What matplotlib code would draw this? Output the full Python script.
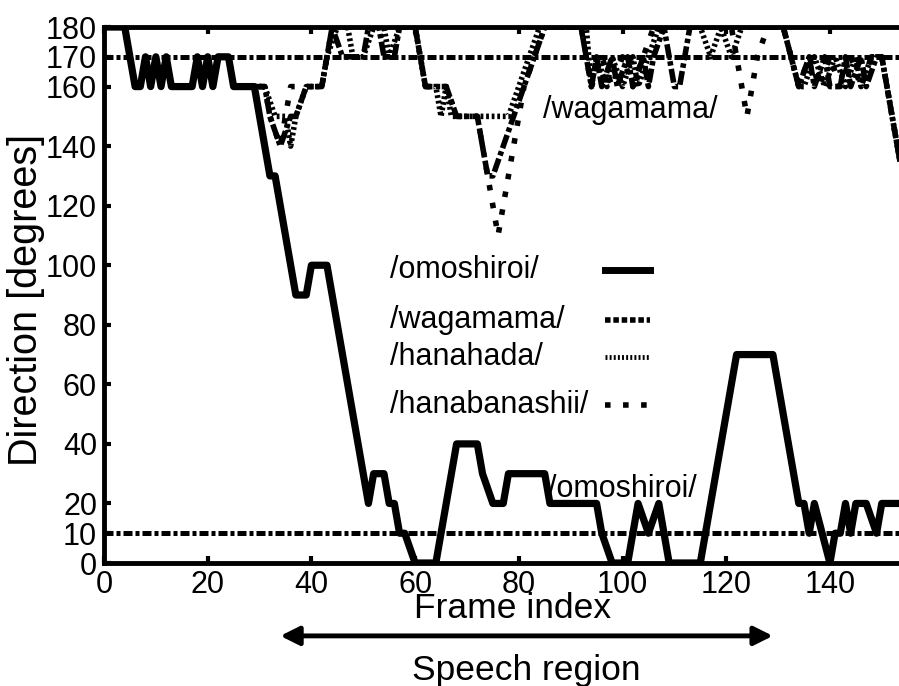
import matplotlib
matplotlib.use('Agg')
from matplotlib import pyplot as plt

plt.rcParams['font.family'] = ['Liberation Sans', 'DejaVu Sans']

# ---- data (frame index, direction in degrees) ----
omo_x = [0, 4, 6, 7, 8, 9, 10, 11, 12, 13, 17, 18, 19, 20, 21, 22, 24, 25, 29, 31, 32, 33,
         37, 39, 40, 43, 51, 52, 54, 55, 56, 57, 58, 60, 64, 68, 72, 73, 75, 77, 78, 85, 86,
         95, 96, 98, 101, 103, 105, 107, 109, 115, 122, 129, 134, 135, 136, 137, 140, 141,
         142, 143, 144, 145, 147, 149, 150, 154]
omo_y = [180, 180, 160, 160, 170, 160, 170, 160, 170, 160, 160, 170, 160, 170, 160, 170, 170, 160, 160, 140, 130, 130,
         90, 90, 100, 100, 20, 30, 30, 20, 20, 10, 10, 0, 0, 40, 40, 30, 20, 20, 30, 30, 20,
         20, 10, 0, 0, 20, 10, 20, 0, 0, 70, 70, 20, 20, 10, 20, 0, 10,
         10, 20, 10, 20, 20, 10, 20, 20]

start_x = [0, 4, 6, 7, 8, 9, 10, 11, 12, 13, 17, 18, 19, 20, 21, 22, 24, 25]
start_y = [180, 180, 160, 160, 170, 160, 170, 160, 170, 160, 160, 170, 160, 170, 160, 170, 170, 160]

waga_x = start_x + [31, 32, 34, 36, 37, 39, 42, 43, 44, 46, 50, 51, 53, 54, 56, 57, 60, 61, 62, 66,
                    68, 72, 73, 74, 75, 77, 79, 81, 83, 85, 92, 94, 95, 96, 98, 99, 101, 102, 104,
                    105, 106, 108, 110, 111, 113, 131, 134, 136, 137, 139, 140, 142, 143, 144, 146,
                    147, 149, 150, 154]
waga_y = start_y + [160, 150, 140, 150, 150, 160, 160, 170, 180, 170, 170, 180, 180, 170, 170, 180, 180, 170, 160, 160,
                    150, 150, 140, 130, 130, 140, 150, 160, 170, 180, 180, 160, 170, 160, 170, 160, 170, 160, 170,
                    160, 170, 180, 160, 160, 180, 180, 160, 170, 160, 170, 160, 160, 170, 160, 170,
                    160, 170, 170, 130]

hana_x = start_x + [31, 33, 35, 36, 37, 39, 42, 43, 45, 47, 48, 50, 52, 54, 55, 57, 60, 61, 62, 64,
                    65, 66, 67, 78, 80, 82, 84, 93, 94, 95, 97, 98, 100, 102, 103, 105, 107, 115,
                    117, 119, 121, 123, 131, 134, 135, 137, 139, 141, 143, 145, 146, 148, 150, 154]
hana_y = start_y + [160, 150, 150, 140, 150, 160, 160, 170, 180, 180, 170, 170, 180, 180, 170, 180, 180, 170, 160, 160,
                    150, 160, 150, 150, 160, 170, 180, 180, 160, 170, 160, 170, 160, 170, 160, 170, 180, 180,
                    170, 180, 170, 180, 180, 160, 160, 170, 160, 170, 160, 170, 160, 170, 170, 130]

bana_x = start_x + [31, 32, 34, 35, 36, 42, 43, 44, 60, 61, 62, 66, 68, 72, 74, 76, 78, 80, 81, 83,
                    85, 92, 94, 96, 98, 100, 102, 104, 106, 121, 124, 126, 128, 131, 134, 136, 138,
                    140, 142, 144, 146, 148, 150, 154]
bana_y = start_y + [160, 150, 140, 150, 160, 160, 170, 180, 180, 170, 160, 160, 150, 150, 130, 110, 130, 150, 160, 170,
                    180, 180, 160, 170, 160, 170, 160, 170, 180, 180, 150, 170, 180, 180, 160, 170, 160,
                    170, 160, 170, 160, 170, 170, 130]

ref_levels = [10, 170]
speech_start, speech_end = 34, 129

y_ticks = [0, 10, 20, 40, 60, 80, 100, 120, 140, 160, 170, 180]
x_ticks = [0, 20, 40, 60, 80, 100, 120, 140]
names = ['/omoshiroi/', '/wagamama/', '/hanahada/', '/hanabanashii/']

FS = 22

fig = plt.figure(figsize=(8.99, 6.86), dpi=100)
ax = fig.add_axes([104 / 899, 0.1793, 798.5 / 899, 0.7813])

# reference lines
for lv in ref_levels:
    ax.axhline(lv, color='black', lw=3.6, dashes=(1.8, 0.6, 0.8, 0.6), zorder=1)

ax.plot(bana_x, bana_y, color='black', lw=4, dashes=(1, 2.25), zorder=2)
ax.plot(hana_x, hana_y, color='black', lw=4, dashes=(0.5, 0.5), zorder=2)
ax.plot(waga_x, waga_y, color='black', lw=4, dashes=(2.5, 0.6, 0.8, 0.6), zorder=3)
ax.plot(omo_x, omo_y, color='black', lw=5.2, solid_joinstyle='round', zorder=4)

ax.set_xlim(0, 154)
ax.set_ylim(0, 180)
ax.set_xticks(x_ticks)
ax.set_yticks(y_ticks)
ax.tick_params(direction='in', length=5, width=3, labelsize=FS, top=True, pad=5)
for s in ['left', 'bottom', 'top']:
    ax.spines[s].set_linewidth(3.5)
ax.spines['right'].set_visible(False)

ax.set_xlabel('Frame index', fontsize=25.5)
ax.xaxis.set_label_coords(0.512, -0.055)
ax.set_ylabel('Direction [degrees]', fontsize=28.5)
ax.yaxis.set_label_coords(-0.074, 0.49)

# in-plot word labels
ax.text(84.7, 152, '/wagamama/', fontsize=FS, va='center', ha='left')
ax.text(85.6, 25, '/omoshiroi/', fontsize=FS, va='center', ha='left')

# legend drawn as a table: labels left, samples right
rows = [0.547, 0.453, 0.384, 0.295]
styles = [dict(lw=5), dict(lw=4, dashes=(1, 0.5)), dict(lw=3.5, dashes=(0.4, 0.45)),
          dict(lw=4, dashes=(1, 2.25))]
for name, ry, st in zip(names, rows, styles):
    ax.text(0.358, ry, name, fontsize=FS, va='center', ha='left', transform=ax.transAxes)
    ax.plot([0.627, 0.684], [ry, ry], color='black', transform=ax.transAxes, clip_on=False, **st)

# speech region arrow
ax.annotate('', xy=(speech_end, -0.136), xytext=(speech_start, -0.136),
            xycoords=('data', 'axes fraction'), textcoords=('data', 'axes fraction'),
            arrowprops=dict(arrowstyle='<|-|>', lw=3.5, color='black', mutation_scale=28,
                            shrinkA=0, shrinkB=0),
            annotation_clip=False)
ax.text((speech_start + speech_end) / 2, -0.2, 'Speech region', fontsize=25.5,
        ha='center', va='center', transform=ax.get_xaxis_transform())

fig.savefig('out.png', dpi=100)
